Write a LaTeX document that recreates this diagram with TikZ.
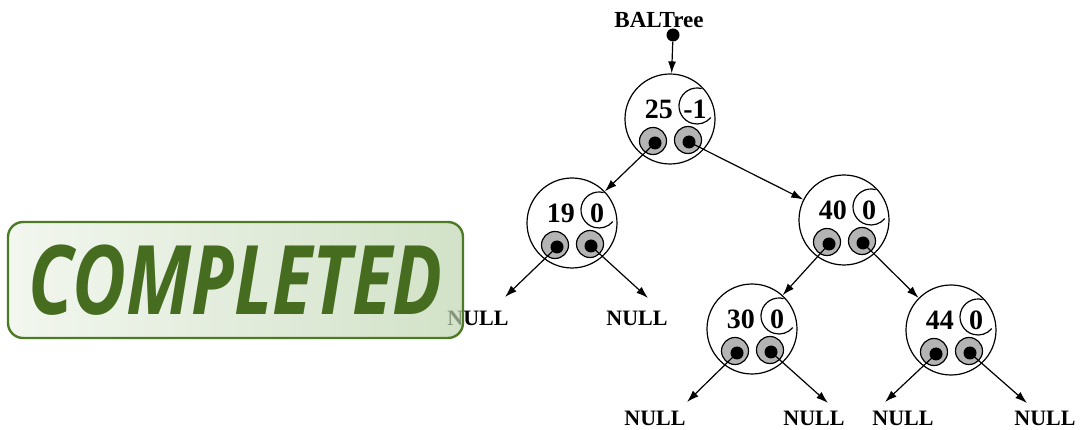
\documentclass[tikz,border=0pt]{standalone}
\usepackage{graphicx}
\usepackage{fontspec}
\setmainfont{Liberation Serif}
\setsansfont{Open Sans}
\usetikzlibrary{arrows.meta}
\definecolor{stampgreen}{HTML}{466D1F}
\definecolor{stampedge}{HTML}{4C7A25}
\definecolor{stampleft}{RGB}{237,243,232}
\definecolor{stampright}{RGB}{191,214,177}
\definecolor{ptrgray}{HTML}{B4B4B4}
\tikzset{
  treenode/.style={circle, draw, line width=1.2pt, minimum size=90pt, inner sep=0pt},
  ptr/.style={circle, draw, line width=1.2pt, fill=ptrgray, minimum size=27pt, inner sep=0pt},
  ptrdot/.style={circle, fill, minimum size=13pt, inner sep=0pt},
  link/.style={-{Latex[length=12pt,width=8pt]}, line width=1.2pt},
  keytext/.style={font=\fontsize{28}{28}\selectfont\bfseries, inner sep=0pt},
  nulltext/.style={font=\fontsize{22}{22}\selectfont\bfseries, inner sep=0pt}
}
\begin{document}
\begin{tikzpicture}[x=1pt,y=-1pt]
        \useasboundingbox (0,0) rectangle (1082,430);

        % Head pointer
        \node[font=\fontsize{23}{23}\selectfont\bfseries] (head) at (659,20) {BALTree};
        \node[ptrdot] (headdot) at (673,35) {};

        % Tree nodes: key, balance factor and two child pointers
        \foreach \nm/\x/\y/\key/\bal in {n25/670/119/25/-1, n19/572/223/19/0, n40/844/220/40/0, n30/752/329/30/0, n44/951/330/44/0} {
                \node[treenode] (\nm) at (\x,\y) {};
                \node[keytext, anchor=east] (\nm-key) at (\x+3,\y-10) {\key};
                \node[keytext] (\nm-bal) at (\x+25,\y-10) {\bal};
                \draw[line width=1.2pt] (\x+27,\y-13) ++(-75:18) arc[start angle=-75, end angle=-320, radius=18];
                \node[ptr] (\nm-l) at (\x-17,\y+22) {};
                \node[ptr] (\nm-r) at (\x+18,\y+21) {};
                \node[ptrdot] (\nm-ld) at (\x-15,\y+24) {};
                \node[ptrdot] (\nm-rd) at (\x+19,\y+23) {};
            }

        % Links between nodes
        \draw[link] (headdot) -- (n25);
        \draw[link] (n25-ld.center) -- (n19);
        \draw[link] (n25-rd.center) -- (n40);
        \draw[link] (n40-ld.center) -- (n30);
        \draw[link] (n40-rd.center) -- (n44);

        % Empty subtrees
        \foreach \nm/\side/\tx/\ty/\lx/\ly in {n19/ld/505/297/478/318, n19/rd/648/298/637/318, n30/ld/687/402/655/418, n30/rd/828/403/814/418, n44/ld/885/402/903/418, n44/rd/1027/403/1045/418} {
                \coordinate (\nm-\side-end) at (\tx,\ty);
                \draw[link] (\nm-\side.center) -- (\nm-\side-end);
                \node[nulltext] (\nm-\side-null) at (\lx,\ly) {NULL};
            }

        % Stamp
        \node[rounded corners=15pt, draw=stampedge, line width=2.4pt, left color=stampleft, right color=stampright, fill opacity=0.7, text opacity=1, text=stampgreen, minimum width=455pt, minimum height=116pt, inner sep=0pt] (stamp) at (235.5,280) {\scalebox{0.77}[1]{\sffamily\bfseries\itshape\fontsize{96}{96}\selectfont COMPLETED}};
    \end{tikzpicture}
\end{document}
